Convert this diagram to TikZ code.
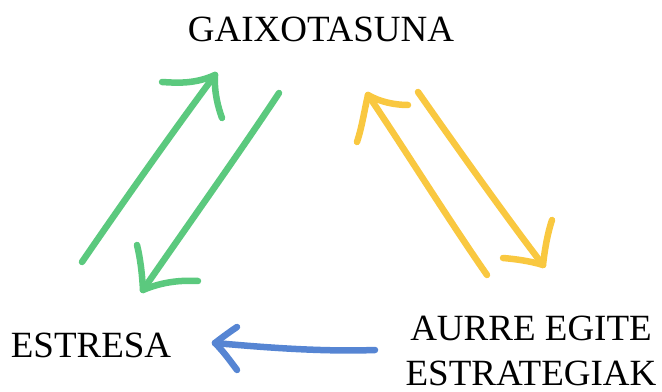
\documentclass[tikz,border=0pt]{standalone}
\usepackage{fontspec}
\setmainfont{Liberation Serif}
\usetikzlibrary{arrows.meta}

\definecolor{greenarrow}{RGB}{91,201,126}
\definecolor{yellowarrow}{RGB}{249,200,64}
\definecolor{bluearrow}{RGB}{86,133,211}

\tikzset{
  stroke/.style={line width=6.5bp,line cap=round,line join=round},
  label/.style={inner sep=0pt,anchor=base,font=\fontsize{37bp}{51bp}\selectfont},
}

\begin{document}
\begin{tikzpicture}
\useasboundingbox (0bp,0bp) rectangle (662bp,392bp);
%%
\node (gaixotasuna) at (321bp,350bp) [label] {GAIXOTASUNA};
  \node (estresa) at (91bp,35bp) [label] {ESTRESA};
  \node (aurre) at (531bp,51bp) [label] {AURRE EGITE};
  \node (estrategiak) at (531bp,7bp) [label] {ESTRATEGIAK};
%
\coordinate (g1_tail) at (82bp,130bp);
  \coordinate (g1_tip) at (215bp,317bp);
  \coordinate (g2_tail) at (279bp,299bp);
  \coordinate (g2_tip) at (143bp,102bp);
  \coordinate (y1_tail) at (487bp,117bp);
  \coordinate (y1_tip) at (368bp,297bp);
  \coordinate (y2_tail) at (418bp,300bp);
  \coordinate (y2_tip) at (543bp,127bp);
  \coordinate (b_tail) at (375bp,42bp);
  \coordinate (b_tip) at (215bp,49bp);
%
\draw [greenarrow,stroke] (g1_tail) ..controls (130bp,200bp) and (180bp,270bp) .. (g1_tip);
  \draw [greenarrow,stroke] (g1_tip) ..controls (195bp,308bp) and (178bp,309bp) .. (162bp,310bp);
  \draw [greenarrow,stroke] (g1_tip) ..controls (214bp,300bp) and (218bp,285bp) .. (222bp,274bp);
  \draw [greenarrow,stroke] (g2_tail) ..controls (240bp,240bp) and (190bp,170bp) .. (g2_tip);
  \draw [greenarrow,stroke] (g2_tip) ..controls (142bp,120bp) and (140bp,135bp) .. (137bp,147bp);
  \draw [greenarrow,stroke] (g2_tip) ..controls (162bp,110bp) and (180bp,112bp) .. (198bp,111bp);
  \draw [yellowarrow,stroke] (y1_tail) ..controls (450bp,170bp) and (400bp,250bp) .. (y1_tip);
  \draw [yellowarrow,stroke] (y1_tip) ..controls (364bp,280bp) and (362bp,265bp) .. (357bp,250bp);
  \draw [yellowarrow,stroke] (y1_tip) ..controls (380bp,290bp) and (395bp,287bp) .. (408bp,287bp);
  \draw [yellowarrow,stroke] (y2_tail) ..controls (460bp,240bp) and (510bp,170bp) .. (y2_tip);
  \draw [yellowarrow,stroke] (y2_tip) ..controls (545bp,145bp) and (548bp,160bp) .. (552bp,172bp);
  \draw [yellowarrow,stroke] (y2_tip) ..controls (530bp,131bp) and (515bp,133bp) .. (503bp,134bp);
  \draw [bluearrow,stroke] (b_tail) ..controls (320bp,40bp) and (260bp,45bp) .. (b_tip);
  \draw [bluearrow,stroke] (b_tip) ..controls (224bp,56bp) and (231bp,61bp) .. (237bp,65bp);
  \draw [bluearrow,stroke] (b_tip) ..controls (224bp,40bp) and (231bp,30bp) .. (237bp,22bp);
%
\end{tikzpicture}
\end{document}
